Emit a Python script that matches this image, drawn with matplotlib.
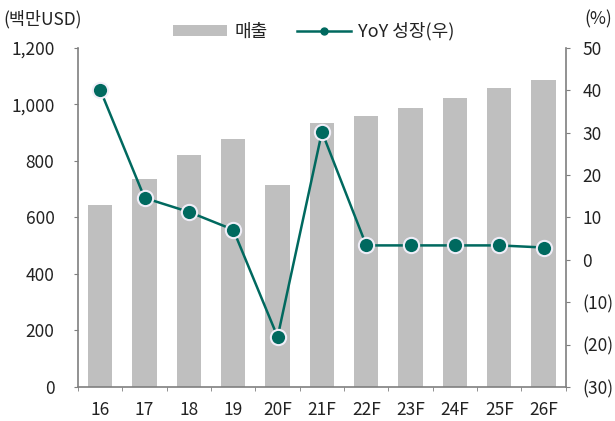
import matplotlib
matplotlib.use("Agg")
import matplotlib.pyplot as plt
from matplotlib.ticker import FuncFormatter

plt.rcParams['font.family'] = ['Noto Sans CJK KR', 'DejaVu Sans']

categories = ['16', '17', '18', '19', '20F', '21F', '22F', '23F', '24F', '25F', '26F']
sales = [644, 735, 821, 878, 715, 934, 960, 989, 1024, 1058, 1087]
yoy = [40.1, 14.6, 11.3, 7.1, -18.2, 30.2, 3.4, 3.4, 3.4, 3.4, 2.9]

bar_color = '#BFBFBF'
line_color = '#00695F'
spine_color = '#7F7F7F'
text_color = '#222222'

fig = plt.figure(figsize=(6.15, 4.21), dpi=100)
ax = fig.add_axes([0.127, 0.081, 0.793, 0.805])
x = list(range(len(categories)))
bars = ax.bar(x, sales, width=0.55, color=bar_color, zorder=1, label='매출')
ax.set_ylim(0, 1200)
ax.set_xlim(-0.5, len(categories) - 0.5)
ax.set_yticks(range(0, 1201, 200))
ax.yaxis.set_major_formatter(FuncFormatter(lambda v, p: f'{int(v):,}'))
ax.set_xticks(x)
ax.set_xticklabels(categories)
ax.tick_params(axis='x', length=0, pad=10, labelsize=12.5, colors=text_color)
ax.set_xticks([i + 0.5 for i in range(-1, len(categories))], minor=True)
ax.tick_params(axis='x', which='minor', length=3, color=spine_color, direction='out')
ax.tick_params(axis='y', length=3, color=spine_color, labelsize=12.5, colors=text_color, pad=14)
for s in ['top', 'right']:
    ax.spines[s].set_visible(False)
for s in ['left', 'bottom']:
    ax.spines[s].set_color(spine_color)
    ax.spines[s].set_linewidth(1.2)

ax2 = ax.twinx()
line, = ax2.plot(x, yoy, color=line_color, lw=1.8, marker='o', markersize=11,
                 markerfacecolor=line_color, markeredgecolor='#F0EEF8', markeredgewidth=1.5,
                 zorder=3, label='YoY 성장(우)')
ax2.set_ylim(-30, 50)
ax2.set_yticks(range(-30, 51, 10))
ax2.yaxis.set_major_formatter(FuncFormatter(lambda v, p: f'({abs(int(v))})' if v < 0 else f'{int(v)}'))
ax2.tick_params(axis='y', length=3, color=spine_color, labelsize=12.5, colors=text_color, pad=9)
for s in ['top', 'left', 'bottom']:
    ax2.spines[s].set_visible(False)
ax2.spines['right'].set_color(spine_color)
ax2.spines['right'].set_linewidth(1.2)

fig.text(0.005, 0.955, '(백만USD)', fontsize=12.5, color=text_color, va='center', ha='left')
fig.text(0.995, 0.955, '(%)', fontsize=12.5, color=text_color, va='center', ha='right')

leg_line = plt.Line2D([], [], color=line_color, lw=1.8, marker='o', markersize=5,
                      markerfacecolor=line_color, markeredgecolor=line_color)
fig.legend([bars, leg_line], ['매출', 'YoY 성장(우)'], loc='center', bbox_to_anchor=(0.51, 0.925),
           ncol=2, frameon=False, fontsize=13, handlelength=3.0, handleheight=0.6,
           columnspacing=1.6, handletextpad=0.4, labelcolor=text_color)

fig.savefig('out.png', dpi=100)
